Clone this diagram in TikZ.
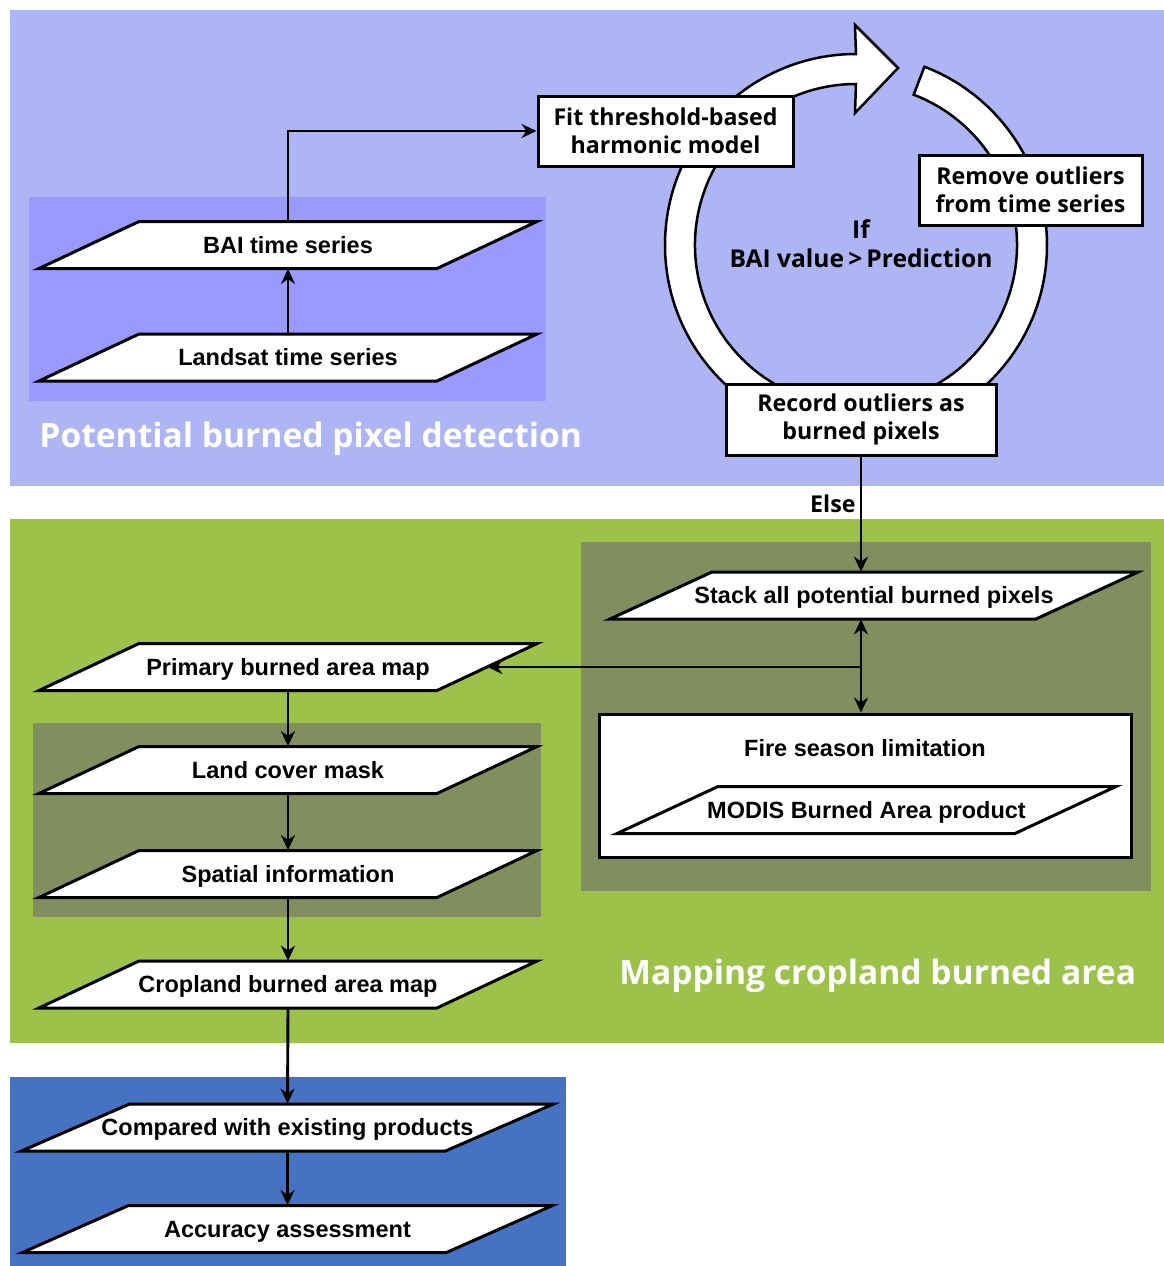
\documentclass[tikz,border=0pt]{standalone}
\usepackage{fontspec}
\setmainfont{Liberation Sans}
\newfontfamily\segoe{Open Sans}
\usetikzlibrary{arrows.meta,calc}
\definecolor{topbg}{HTML}{ADB5F4}
\definecolor{violetbg}{HTML}{9999FF}
\definecolor{greenbg}{HTML}{9DC24A}
\definecolor{olivebg}{HTML}{808F5D}
\definecolor{bluebg}{HTML}{4672C4}
\tikzset{
  panelbox/.style={draw=black, line width=1.5pt, fill=white, inner sep=0pt},
  boxtext/.style={font=\segoe\bfseries\fontsize{11.6}{14}\selectfont, align=center},
  ptext/.style={font=\bfseries\fontsize{11.75}{14}\selectfont, inner sep=0pt, text height=8.4pt, text depth=0pt},
  pline/.style={draw=black, fill=white, line width=1.5pt},
  conn/.style={line width=1.45pt, -{Stealth[length=7.5pt,width=7pt]}},
  dconn/.style={line width=1.45pt, {Stealth[length=7.5pt,width=7pt]}-{Stealth[length=7.5pt,width=7pt]}},
  titletext/.style={font=\segoe\bfseries\fontsize{16.8}{20}\selectfont, text=white, inner sep=0pt}
}
\newcommand{\Para}[6]{%
  \path[pline] (#2-#4+#5,#3-23.5) -- (#2+#4+#5,#3-23.5) -- (#2+#4-#5,#3+23.5) -- (#2-#4-#5,#3+23.5) -- cycle;
  \node[ptext, minimum width={#4*1pt}, minimum height=23.5pt] (#1) at (#2,#3) {#6};
}
\begin{document}
\begin{tikzpicture}[x=0.5pt,y=-0.5pt]
\useasboundingbox (0,0) rectangle (1164,1266);
\fill[white] (0,0) rectangle (1164,1266);
% panels
\fill[topbg] (10,10) rectangle (1164,486);
\fill[violetbg] (29,197) rectangle (546,401);
\fill[greenbg] (10,519) rectangle (1164,1043);
\fill[olivebg] (581,542) rectangle (1151,891);
\fill[olivebg] (33,723) rectangle (541,917);
\fill[bluebg] (10,1077) rectangle (566,1266);
% circular arrow
\filldraw[fill=white, draw=black, line width=1.25pt]
  ($(856,245)+(-69:161)$) arc[start angle=-69, end angle=270, radius=161]
  -- (855,113) -- (898,68) -- (855,25) -- (856,54)
  arc[start angle=270, end angle=-69, radius=191] -- cycle;
\node[boxtext, inner sep=0pt, font=\segoe\bfseries\fontsize{12.3}{14.5}\selectfont] (cond) at (861,244) {If\\BAI value\,>\,Prediction};
% boxes
\node[panelbox, boxtext, minimum width=127.5pt, minimum height=35pt] (fit) at (665.5,131) {\raisebox{-1pt}{Fit threshold-based}\\\raisebox{-1pt}{harmonic model}};
\node[panelbox, boxtext, minimum width=111.5pt, minimum height=35pt] (remove) at (1030.5,190) {\raisebox{-1pt}{Remove outliers}\\\raisebox{-1pt}{from time series}};
\node[panelbox, boxtext, minimum width=135pt, minimum height=35.5pt] (record) at (861,419.5) {\raisebox{-1.5pt}{Record outliers as}\\\raisebox{-1.5pt}{burned pixels}};
\node[panelbox, minimum width=266pt, minimum height=71.5pt] (fire) at (865,785.5) {};
\node[ptext] (firelabel) at (865,748) {Fire season limitation};
% parallelograms
\Para{bai}{288}{245}{199}{50}{BAI time series}
\Para{landsat}{288}{357.5}{199}{50}{Landsat time series}
\Para{stack}{874}{595.5}{213}{51}{Stack all potential burned pixels}
\Para{modis}{866.5}{810}{199}{50.5}{MODIS Burned Area product}
\Para{primary}{288}{667}{199}{50}{Primary burned area map}
\Para{land}{288}{770}{199}{50}{Land cover mask}
\Para{spatial}{288}{874}{199}{50}{Spatial information}
\Para{crop}{288}{984.5}{199}{50}{Cropland burned area map}
\Para{compared}{287.5}{1127.5}{212}{54}{Compared with existing products}
\Para{accuracy}{287.5}{1229}{212}{53}{Accuracy assessment}
% titles
\node[titletext, anchor=base west] (t1) at (39,447) {Potential burned pixel detection};
\node[titletext, anchor=base west] (t2) at (619,984) {Mapping cropland burned area};
% connectors
\draw[conn] (landsat.north) -- (bai.south);
\draw[conn] (bai.north) |- (fit.west);
\draw[conn] (record.south) -- (record.south |- stack.north)
  node[pos=0.41, left, boxtext, inner sep=2pt] (elselabel) {Else};
\draw[dconn] (record.south |- stack.south) -- (record.south |- fire.north);
\coordinate (junc) at (861,667);
\draw[conn] (junc) -- (primary.east);
\draw[conn] (primary.south) -- (land.north);
\draw[conn] (land.south) -- (spatial.north);
\draw[conn] (spatial.south) -- (crop.north);
\draw[conn] (crop.south) -- (compared.north);
\draw[conn] (compared.south) -- (accuracy.north);
\end{tikzpicture}
\end{document}
